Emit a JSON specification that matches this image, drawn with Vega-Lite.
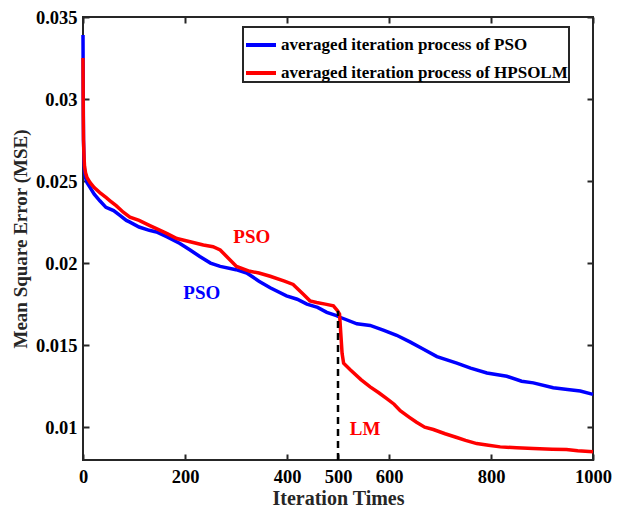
{
  "$schema": "https://vega.github.io/schema/vega-lite/v6.json",
  "width": 510,
  "height": 443,
  "autosize": "none",
  "padding": {"left": 83, "top": 17, "right": 32, "bottom": 49},
  "background": "white",
  "config": {
    "font": "Times New Roman, Liberation Serif, DejaVu Serif, serif",
    "view": {"stroke": "#262626", "strokeWidth": 2},
    "axis": {
      "labelFont": "Times New Roman, Liberation Serif, DejaVu Serif, serif", "labelFontWeight": "bold", "labelFontSize": 18.5, "labelColor": "black", "labelFlush": false,
      "titleFont": "Times New Roman, Liberation Serif, DejaVu Serif, serif", "titleFontWeight": "bold", "titleFontSize": 19, "titleColor": "#262626",
      "domain": false, "tickColor": "#262626", "tickWidth": 2, "tickSize": -6, "grid": false
    },
    "legend": {"strokeWidth": 2}
  },
  "datasets": {
    "curves": [
      {"iter": 0, "mse": 0.0339, "series": "averaged iteration process of PSO"},
      {"iter": 0.5, "mse": 0.030, "series": "averaged iteration process of PSO"},
      {"iter": 1, "mse": 0.0275, "series": "averaged iteration process of PSO"},
      {"iter": 2, "mse": 0.0262, "series": "averaged iteration process of PSO"},
      {"iter": 3, "mse": 0.0256, "series": "averaged iteration process of PSO"},
      {"iter": 5, "mse": 0.0252, "series": "averaged iteration process of PSO"},
      {"iter": 8, "mse": 0.0249, "series": "averaged iteration process of PSO"},
      {"iter": 14, "mse": 0.0246, "series": "averaged iteration process of PSO"},
      {"iter": 22, "mse": 0.0242, "series": "averaged iteration process of PSO"},
      {"iter": 33, "mse": 0.0238, "series": "averaged iteration process of PSO"},
      {"iter": 45, "mse": 0.0234, "series": "averaged iteration process of PSO"},
      {"iter": 60, "mse": 0.0232, "series": "averaged iteration process of PSO"},
      {"iter": 73, "mse": 0.0229, "series": "averaged iteration process of PSO"},
      {"iter": 85, "mse": 0.0226, "series": "averaged iteration process of PSO"},
      {"iter": 92, "mse": 0.0225, "series": "averaged iteration process of PSO"},
      {"iter": 110, "mse": 0.0222, "series": "averaged iteration process of PSO"},
      {"iter": 130, "mse": 0.0220, "series": "averaged iteration process of PSO"},
      {"iter": 144, "mse": 0.0219, "series": "averaged iteration process of PSO"},
      {"iter": 165, "mse": 0.0216, "series": "averaged iteration process of PSO"},
      {"iter": 190, "mse": 0.0212, "series": "averaged iteration process of PSO"},
      {"iter": 210, "mse": 0.0208, "series": "averaged iteration process of PSO"},
      {"iter": 229, "mse": 0.0204, "series": "averaged iteration process of PSO"},
      {"iter": 250, "mse": 0.0200, "series": "averaged iteration process of PSO"},
      {"iter": 269, "mse": 0.0198, "series": "averaged iteration process of PSO"},
      {"iter": 300, "mse": 0.0196, "series": "averaged iteration process of PSO"},
      {"iter": 321, "mse": 0.0194, "series": "averaged iteration process of PSO"},
      {"iter": 345, "mse": 0.0189, "series": "averaged iteration process of PSO"},
      {"iter": 367, "mse": 0.0185, "series": "averaged iteration process of PSO"},
      {"iter": 399, "mse": 0.0180, "series": "averaged iteration process of PSO"},
      {"iter": 420, "mse": 0.0178, "series": "averaged iteration process of PSO"},
      {"iter": 439, "mse": 0.0175, "series": "averaged iteration process of PSO"},
      {"iter": 460, "mse": 0.0173, "series": "averaged iteration process of PSO"},
      {"iter": 478, "mse": 0.0170, "series": "averaged iteration process of PSO"},
      {"iter": 497, "mse": 0.0168, "series": "averaged iteration process of PSO"},
      {"iter": 504, "mse": 0.0167, "series": "averaged iteration process of PSO"},
      {"iter": 537, "mse": 0.0163, "series": "averaged iteration process of PSO"},
      {"iter": 563, "mse": 0.0162, "series": "averaged iteration process of PSO"},
      {"iter": 590, "mse": 0.0159, "series": "averaged iteration process of PSO"},
      {"iter": 615, "mse": 0.0156, "series": "averaged iteration process of PSO"},
      {"iter": 641, "mse": 0.0152, "series": "averaged iteration process of PSO"},
      {"iter": 665, "mse": 0.0148, "series": "averaged iteration process of PSO"},
      {"iter": 694, "mse": 0.0143, "series": "averaged iteration process of PSO"},
      {"iter": 733, "mse": 0.0139, "series": "averaged iteration process of PSO"},
      {"iter": 760, "mse": 0.0136, "series": "averaged iteration process of PSO"},
      {"iter": 792, "mse": 0.0133, "series": "averaged iteration process of PSO"},
      {"iter": 831, "mse": 0.0131, "series": "averaged iteration process of PSO"},
      {"iter": 860, "mse": 0.0128, "series": "averaged iteration process of PSO"},
      {"iter": 883, "mse": 0.0127, "series": "averaged iteration process of PSO"},
      {"iter": 922, "mse": 0.0124, "series": "averaged iteration process of PSO"},
      {"iter": 950, "mse": 0.0123, "series": "averaged iteration process of PSO"},
      {"iter": 975, "mse": 0.0122, "series": "averaged iteration process of PSO"},
      {"iter": 1000, "mse": 0.0120, "series": "averaged iteration process of PSO"},
      {"iter": 0, "mse": 0.0325, "series": "averaged iteration process of HPSOLM"},
      {"iter": 0.5, "mse": 0.029, "series": "averaged iteration process of HPSOLM"},
      {"iter": 1, "mse": 0.0275, "series": "averaged iteration process of HPSOLM"},
      {"iter": 2, "mse": 0.0265, "series": "averaged iteration process of HPSOLM"},
      {"iter": 3, "mse": 0.0259, "series": "averaged iteration process of HPSOLM"},
      {"iter": 5, "mse": 0.0255, "series": "averaged iteration process of HPSOLM"},
      {"iter": 8, "mse": 0.0252, "series": "averaged iteration process of HPSOLM"},
      {"iter": 14, "mse": 0.0249, "series": "averaged iteration process of HPSOLM"},
      {"iter": 22, "mse": 0.0246, "series": "averaged iteration process of HPSOLM"},
      {"iter": 33, "mse": 0.0243, "series": "averaged iteration process of HPSOLM"},
      {"iter": 45, "mse": 0.0240, "series": "averaged iteration process of HPSOLM"},
      {"iter": 53, "mse": 0.0238, "series": "averaged iteration process of HPSOLM"},
      {"iter": 65, "mse": 0.0235, "series": "averaged iteration process of HPSOLM"},
      {"iter": 79, "mse": 0.0231, "series": "averaged iteration process of HPSOLM"},
      {"iter": 92, "mse": 0.0228, "series": "averaged iteration process of HPSOLM"},
      {"iter": 110, "mse": 0.0226, "series": "averaged iteration process of HPSOLM"},
      {"iter": 130, "mse": 0.0223, "series": "averaged iteration process of HPSOLM"},
      {"iter": 144, "mse": 0.0221, "series": "averaged iteration process of HPSOLM"},
      {"iter": 165, "mse": 0.0218, "series": "averaged iteration process of HPSOLM"},
      {"iter": 184, "mse": 0.0215, "series": "averaged iteration process of HPSOLM"},
      {"iter": 210, "mse": 0.0213, "series": "averaged iteration process of HPSOLM"},
      {"iter": 236, "mse": 0.0211, "series": "averaged iteration process of HPSOLM"},
      {"iter": 255, "mse": 0.0210, "series": "averaged iteration process of HPSOLM"},
      {"iter": 269, "mse": 0.0208, "series": "averaged iteration process of HPSOLM"},
      {"iter": 285, "mse": 0.0203, "series": "averaged iteration process of HPSOLM"},
      {"iter": 301, "mse": 0.0198, "series": "averaged iteration process of HPSOLM"},
      {"iter": 327, "mse": 0.0195, "series": "averaged iteration process of HPSOLM"},
      {"iter": 345, "mse": 0.0194, "series": "averaged iteration process of HPSOLM"},
      {"iter": 367, "mse": 0.0192, "series": "averaged iteration process of HPSOLM"},
      {"iter": 395, "mse": 0.0189, "series": "averaged iteration process of HPSOLM"},
      {"iter": 412, "mse": 0.0187, "series": "averaged iteration process of HPSOLM"},
      {"iter": 432, "mse": 0.0181, "series": "averaged iteration process of HPSOLM"},
      {"iter": 445, "mse": 0.0177, "series": "averaged iteration process of HPSOLM"},
      {"iter": 458, "mse": 0.0176, "series": "averaged iteration process of HPSOLM"},
      {"iter": 475, "mse": 0.0175, "series": "averaged iteration process of HPSOLM"},
      {"iter": 491, "mse": 0.0174, "series": "averaged iteration process of HPSOLM"},
      {"iter": 499, "mse": 0.0171, "series": "averaged iteration process of HPSOLM"},
      {"iter": 503, "mse": 0.0169, "series": "averaged iteration process of HPSOLM"},
      {"iter": 508, "mse": 0.0145, "series": "averaged iteration process of HPSOLM"},
      {"iter": 511, "mse": 0.0139, "series": "averaged iteration process of HPSOLM"},
      {"iter": 524, "mse": 0.0135, "series": "averaged iteration process of HPSOLM"},
      {"iter": 545, "mse": 0.0129, "series": "averaged iteration process of HPSOLM"},
      {"iter": 563, "mse": 0.01246, "series": "averaged iteration process of HPSOLM"},
      {"iter": 580, "mse": 0.0121, "series": "averaged iteration process of HPSOLM"},
      {"iter": 595, "mse": 0.01175, "series": "averaged iteration process of HPSOLM"},
      {"iter": 610, "mse": 0.0114, "series": "averaged iteration process of HPSOLM"},
      {"iter": 622, "mse": 0.0110, "series": "averaged iteration process of HPSOLM"},
      {"iter": 640, "mse": 0.0106, "series": "averaged iteration process of HPSOLM"},
      {"iter": 654, "mse": 0.0103, "series": "averaged iteration process of HPSOLM"},
      {"iter": 670, "mse": 0.0100, "series": "averaged iteration process of HPSOLM"},
      {"iter": 687, "mse": 0.00986, "series": "averaged iteration process of HPSOLM"},
      {"iter": 710, "mse": 0.0096, "series": "averaged iteration process of HPSOLM"},
      {"iter": 733, "mse": 0.00937, "series": "averaged iteration process of HPSOLM"},
      {"iter": 750, "mse": 0.0092, "series": "averaged iteration process of HPSOLM"},
      {"iter": 772, "mse": 0.0090, "series": "averaged iteration process of HPSOLM"},
      {"iter": 795, "mse": 0.0089, "series": "averaged iteration process of HPSOLM"},
      {"iter": 818, "mse": 0.0088, "series": "averaged iteration process of HPSOLM"},
      {"iter": 850, "mse": 0.00874, "series": "averaged iteration process of HPSOLM"},
      {"iter": 883, "mse": 0.0087, "series": "averaged iteration process of HPSOLM"},
      {"iter": 920, "mse": 0.00866, "series": "averaged iteration process of HPSOLM"},
      {"iter": 948, "mse": 0.00864, "series": "averaged iteration process of HPSOLM"},
      {"iter": 970, "mse": 0.00857, "series": "averaged iteration process of HPSOLM"},
      {"iter": 1000, "mse": 0.0085, "series": "averaged iteration process of HPSOLM"}
    ],
    "marker": [{"iter": 500, "lo": 0.008, "hi": 0.0171}],
    "redLabels": [{"iter": 331, "mse": 0.0216, "label": "PSO"}, {"iter": 553, "mse": 0.0099, "label": "LM"}],
    "blueLabels": [{"iter": 233, "mse": 0.0182, "label": "PSO"}]
  },
  "resolve": {"axis": {"x": "independent", "y": "independent"}},
  "layer": [
    {
      "data": {"name": "curves"},
      "mark": {"type": "line", "strokeWidth": 3.5, "interpolate": "linear"},
      "encoding": {
        "x": {"field": "iter", "type": "quantitative", "scale": {"domain": [0, 1000], "nice": false, "zero": false},
              "axis": {"orient": "bottom", "values": [0, 200, 400, 500, 600, 800, 1000], "format": "d", "title": "Iteration Times", "titleFontSize": 20, "labelPadding": 13, "titlePadding": 3}},
        "y": {"field": "mse", "type": "quantitative", "scale": {"domain": [0.008, 0.035], "nice": false, "zero": false},
              "axis": {"orient": "left", "values": [0.01, 0.015, 0.02, 0.025, 0.03, 0.035], "format": "~g", "title": "Mean Square Error (MSE)", "labelPadding": 12, "titlePadding": 5}},
        "color": {"field": "series", "type": "nominal",
                  "scale": {"domain": ["averaged iteration process of PSO", "averaged iteration process of HPSOLM"], "range": ["#0000FF", "#FF0000"]},
                  "sort": null,
                  "legend": {"title": null, "orient": "none", "legendX": 160, "legendY": 10, "symbolType": "stroke", "symbolSize": 900, "symbolStrokeWidth": 4,
                             "labelFont": "Times New Roman, Liberation Serif, DejaVu Serif, serif", "labelFontWeight": "bold", "labelFontSize": 17, "labelColor": "black", "labelLimit": 400,
                             "strokeColor": "#262626", "fillColor": "white", "padding": 1, "rowPadding": 3, "labelOffset": 3}}
      }
    },
    {
      "data": {"name": "marker"},
      "mark": {"type": "rule", "color": "black", "strokeWidth": 2.5, "strokeDash": [7, 5]},
      "encoding": {
        "x": {"field": "iter", "type": "quantitative", "axis": {"orient": "top", "values": [0, 200, 400, 600, 800, 1000], "labels": false, "title": null}},
        "y": {"field": "lo", "type": "quantitative", "axis": {"orient": "right", "values": [0.01, 0.015, 0.02, 0.025, 0.03, 0.035], "labels": false, "title": null}},
        "y2": {"field": "hi"}
      }
    },
    {
      "data": {"name": "redLabels"},
      "mark": {"type": "text", "color": "#FF0000", "font": "Times New Roman, Liberation Serif, DejaVu Serif, serif", "fontWeight": "bold", "fontSize": 19, "align": "center", "baseline": "middle"},
      "encoding": {
        "x": {"field": "iter", "type": "quantitative", "axis": null},
        "y": {"field": "mse", "type": "quantitative", "axis": null},
        "text": {"field": "label"}
      }
    },
    {
      "data": {"name": "blueLabels"},
      "mark": {"type": "text", "color": "#0000FF", "font": "Times New Roman, Liberation Serif, DejaVu Serif, serif", "fontWeight": "bold", "fontSize": 19, "align": "center", "baseline": "middle"},
      "encoding": {
        "x": {"field": "iter", "type": "quantitative", "axis": null},
        "y": {"field": "mse", "type": "quantitative", "axis": null},
        "text": {"field": "label"}
      }
    }
  ]
}
